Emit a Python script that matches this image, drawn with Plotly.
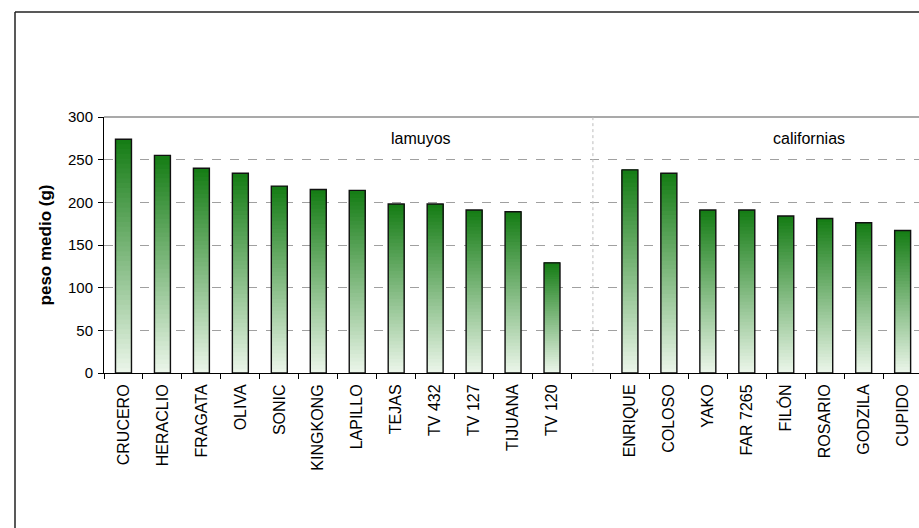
import plotly.graph_objects as go

lamuyos_names = ["CRUCERO", "HERACLIO", "FRAGATA", "OLIVA", "SONIC", "KINGKONG",
                 "LAPILLO", "TEJAS", "TV 432", "TV 127", "TIJUANA", "TV 120"]
lamuyos_vals = [274, 255, 240, 234, 219, 215, 214, 198, 198, 191, 189, 129]
californias_names = ["ENRIQUE", "COLOSO", "YAKO", "FAR 7265", "FILÓN", "ROSARIO",
                     "GODZILA", "CUPIDO"]
californias_vals = [238, 234, 191, 191, 184, 181, 176, 167]
gap_name = " "
y_title = "peso medio (g)"
group_labels = ["lamuyos", "californias"]

categories = lamuyos_names + [gap_name] + californias_names
values = lamuyos_vals + [None] + californias_vals

FONT = "Liberation Sans, Arial, sans-serif"
dark = (22, 125, 22)
light = (234, 245, 232)
N = 48
BW = 0.41

fig = go.Figure()
for k in range(N):
    t = k / (N - 1)
    c = tuple(round(light[i] + (dark[i] - light[i]) * t) for i in range(3))
    bases = [None if v is None else v * k / N for v in values]
    heights = [None if v is None else v - v * k / N for v in values]
    fig.add_trace(go.Bar(
        x=categories, y=heights, base=bases, width=BW,
        marker=dict(color="rgb(%d,%d,%d)" % c, line=dict(width=0)),
        showlegend=False, hoverinfo="skip"))

fig.add_trace(go.Bar(
    x=categories, y=values, base=0, width=BW,
    marker=dict(color="rgba(0,0,0,0)", line=dict(color="#111111", width=1.4)),
    showlegend=False))

fig.update_layout(
    width=919, height=528,
    margin=dict(l=104, r=0, t=117, b=155),
    barmode="overlay",
    paper_bgcolor="white", plot_bgcolor="white",
    font=dict(family=FONT, color="black"),
    xaxis=dict(
        type="category", categoryorder="array", categoryarray=categories,
        range=[-0.5, 20.42], tickson="boundaries", ticks="outside", ticklen=5,
        tickcolor="black", tickangle=-90, tickfont=dict(size=16, family=FONT),
        ticklabelstandoff=4,
        showline=True, linecolor="black", linewidth=1, showgrid=False,
        zeroline=False, fixedrange=True),
    yaxis=dict(
        range=[0, 300], dtick=50, tick0=0, ticks="outside", ticklen=5,
        tickcolor="black", tickfont=dict(size=15, family=FONT),
        ticklabelstandoff=2,
        showline=True, linecolor="black", linewidth=1,
        showgrid=True, gridcolor="#a0a0a0", griddash="dash", gridwidth=1,
        zeroline=False,
        title=dict(text="<b>" + y_title + "</b>", font=dict(size=17, family=FONT),
                   standoff=12)),
)

# plot-area top border
fig.add_shape(type="line", xref="paper", yref="paper", x0=0, x1=1.01, y0=1, y1=1,
              line=dict(color="#8c8c8c", width=1.6))
# dotted separator between groups
fig.add_shape(type="line", xref="x", yref="y", x0=12.05, x1=12.05, y0=1, y1=300,
              line=dict(color="#bcbcbc", width=1, dash="dot"))
# outer chart border (left and top edges visible)
fig.add_shape(type="line", xref="paper", yref="paper", x0=-0.1092, x1=1.02,
              y0=1.4102, y1=1.4102, line=dict(color="#222222", width=1.5))
fig.add_shape(type="line", xref="paper", yref="paper", x0=-0.1092, x1=-0.1092,
              y0=1.4102, y1=-0.7, line=dict(color="#222222", width=1.5))

fig.add_annotation(x=7.64, y=275, xref="x", yref="y", text=group_labels[0],
                   showarrow=False, font=dict(size=16, family=FONT))
fig.add_annotation(x=17.6, y=275, xref="x", yref="y", text=group_labels[1],
                   showarrow=False, font=dict(size=16, family=FONT))

fig.write_html("out.html", config={"displayModeBar": False})
